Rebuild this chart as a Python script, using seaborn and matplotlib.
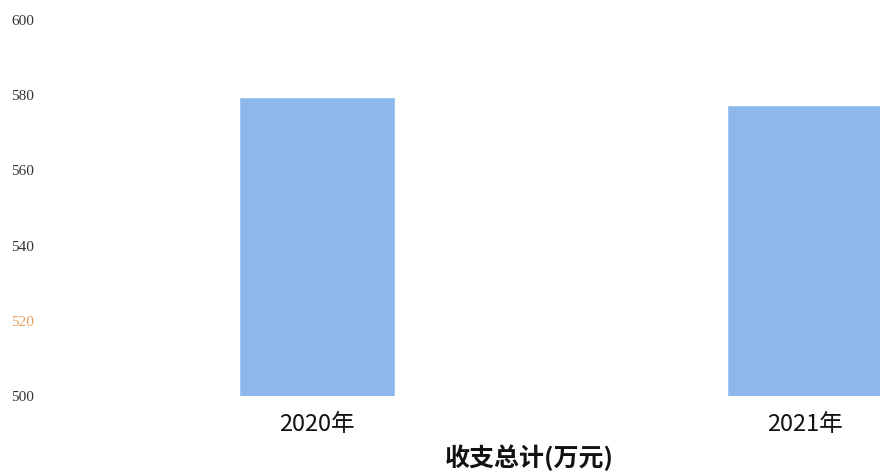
import matplotlib
matplotlib.use("Agg")
import matplotlib.pyplot as plt
import seaborn as sns
import pandas as pd

years = ["2020年", "2021年"]
totals = [579.6, 577.4]
y_ticks = [500, 520, 540, 560, 580, 600]
x_title = "收支总计(万元)"

sns.set_style("white")
plt.rcParams['font.family'] = ['Noto Sans CJK SC', 'DejaVu Sans']

df = pd.DataFrame({"year": years, "total": totals})

fig = plt.figure(figsize=(8.8, 4.71), dpi=100)
ax = fig.add_axes([45 / 880, 75 / 471, 835 / 880, 376 / 471])

sns.barplot(data=df, x="year", y="total", color="#8db8ec", width=0.32,
            saturation=1, ax=ax)

ax.set_ylim(500, 600)
ax.set_xlim(-0.557, 1.154)
ax.set_yticks(y_ticks)
ax.set_yticklabels([str(t) for t in y_ticks], family="Liberation Serif",
                   fontsize=11, color="#333333")
ax.get_yticklabels()[1].set_color("#e8a060")
ax.tick_params(axis="y", length=0, pad=8)
ax.tick_params(axis="x", length=0, pad=12, labelsize=17, labelcolor="#111111")
ax.set_ylabel("")
ax.set_xlabel(x_title, fontsize=18, fontweight="bold", color="#111111")
ax.xaxis.set_label_coords((529 - 45) / 835, -0.13)
sns.despine(ax=ax, left=True, bottom=True)
ax.grid(False)

fig.savefig("out.png", dpi=100)
